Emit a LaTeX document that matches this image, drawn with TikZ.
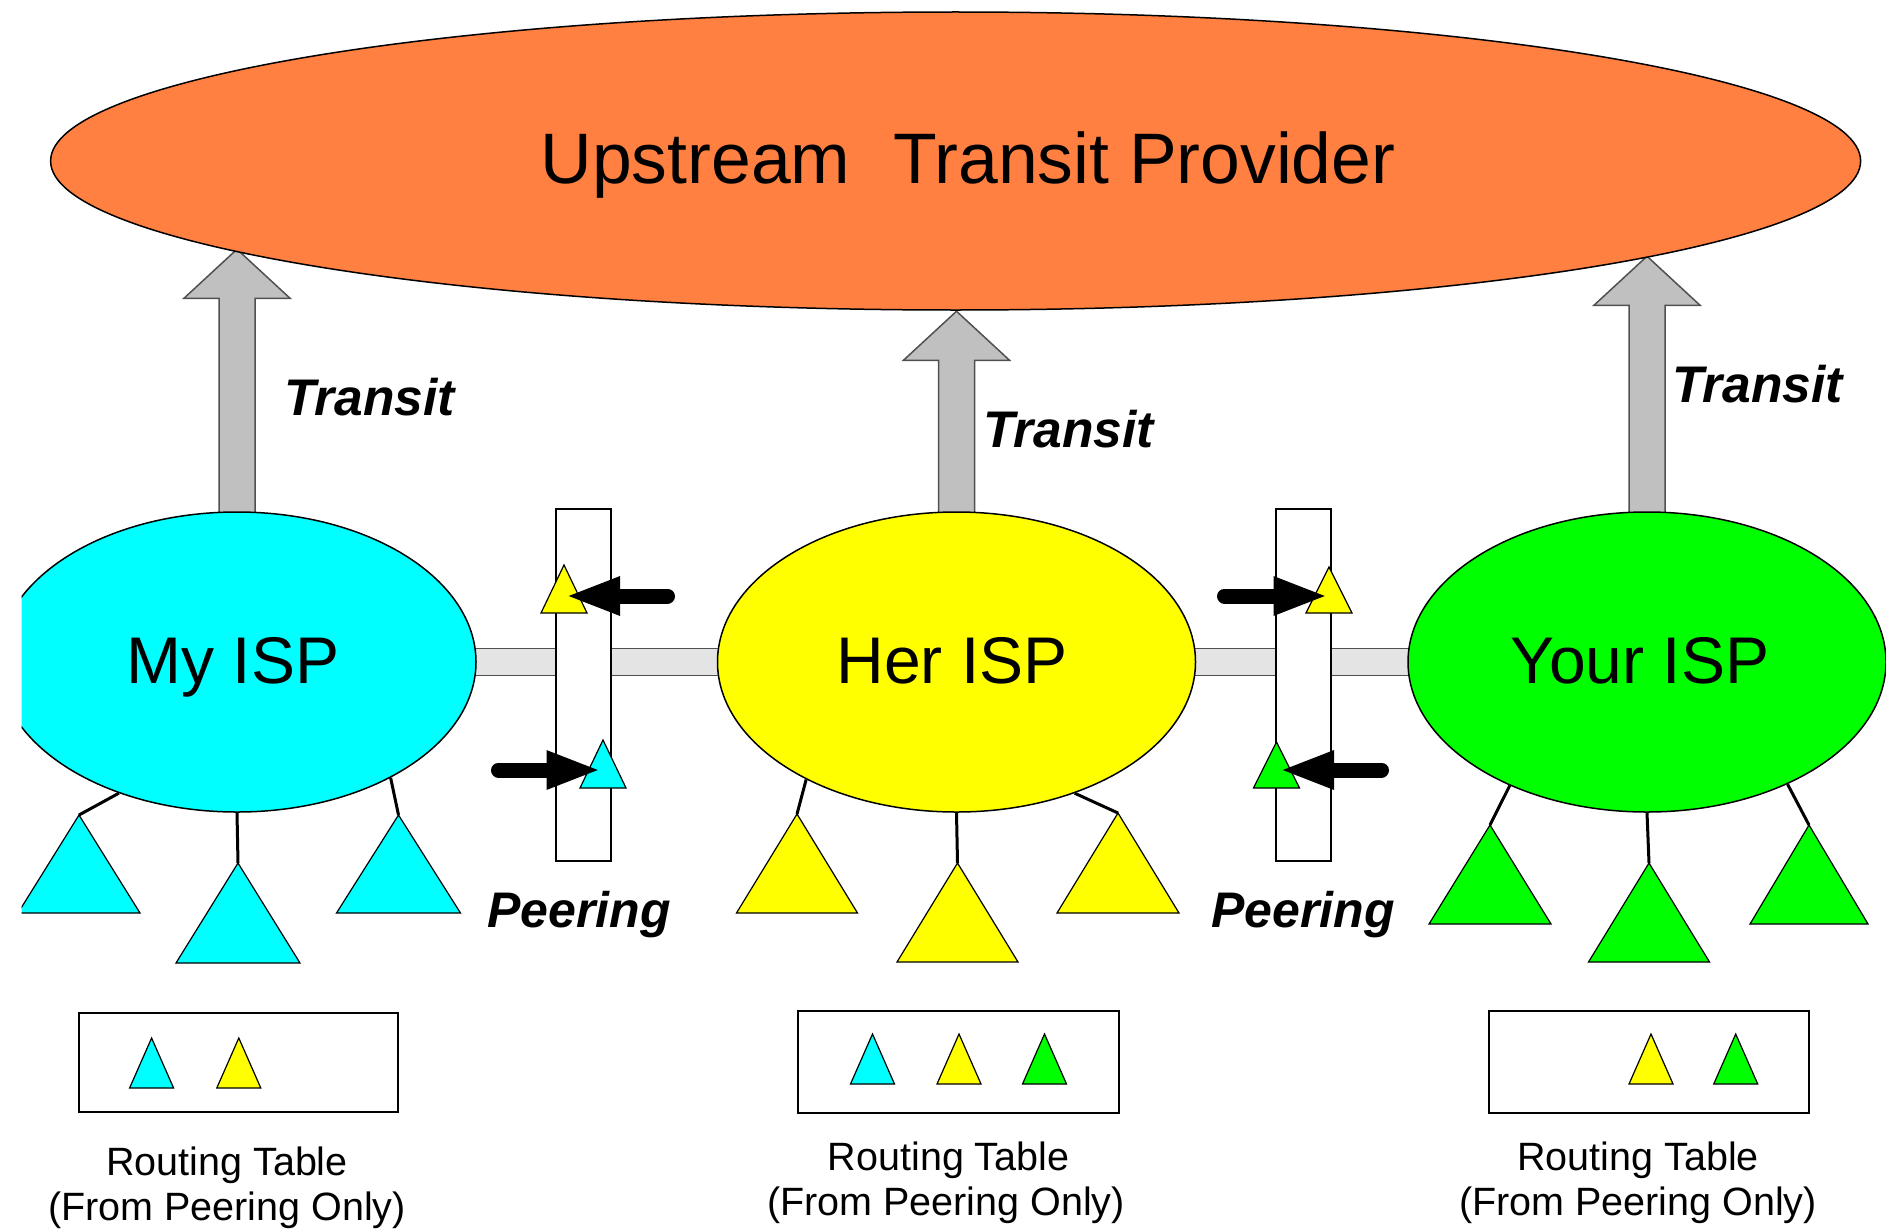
\documentclass[tikz,border=0pt]{standalone}
\usepackage{fontspec}
\setmainfont{Liberation Sans}
\usetikzlibrary{shapes.geometric,arrows.meta,backgrounds,calc}
\definecolor{orng}{RGB}{255,128,64}
\definecolor{cyn}{RGB}{0,255,255}
\definecolor{yel}{RGB}{255,255,0}
\definecolor{grn}{RGB}{0,255,0}
\definecolor{edgegray}{RGB}{80,80,80}
\definecolor{arrgray}{RGB}{192,192,192}
\definecolor{bargray}{RGB}{228,228,228}
\newcommand\tri[6]{\filldraw[trishape,#1] ({#3-#5},#4) -- (#3,{#4-#6}) coordinate (#2) -- ({#3+#5},#4) -- cycle;}
\tikzset{
  isp/.style={ellipse, draw=black, line width=1.5pt, inner sep=0pt, minimum width=478pt, minimum height=300pt},
  trishape/.style={draw=black, line width=1.2pt, line join=miter},
  tline/.style={draw=black, line width=3pt},
  tarrow/.style={fill=arrgray, draw=edgegray, line width=1.5pt, line join=miter},
  pbar/.style={fill=bargray, draw=edgegray, line width=1.5pt},
  pbox/.style={rectangle, draw=black, fill=white, line width=1.5pt, inner sep=0pt, minimum width=55pt, minimum height=352pt},
  rtbox/.style={rectangle, draw=black, fill=white, line width=2pt, inner sep=0pt, minimum height=101pt, minimum width=320pt},
  parrow/.style={draw=black, line width=15pt, line cap=round, -{Triangle[length=55pt,width=35pt]}},
  bigtxt/.style={inner sep=0pt, anchor=base, font=\fontsize{71.5}{86}\selectfont},
  isptxt/.style={inner sep=0pt, anchor=base, font=\fontsize{66}{80}\selectfont},
  emtxt/.style={inner sep=0pt, anchor=base west, font=\fontsize{51.5}{60}\selectfont\bfseries\itshape},
  rttxt/.style={inner sep=0pt, anchor=base, font=\fontsize{39.5}{46}\selectfont},
}
\begin{document}
\begin{tikzpicture}[x=1pt,y=-1pt]
\useasboundingbox (0,0) rectangle (1886,1228);

% upstream provider
\node[isp, fill=orng, minimum width=1810pt, minimum height=298pt] (up) at (955.6,161) {};
\node[bigtxt] (uplab) at (968,183) {Upstream\hspace{0.6em}Transit Provider};

% ISPs
\begin{scope}
  \clip (21.5,0) rectangle (1886,1228);
  \node[isp, fill=cyn] (my) at (237,662) {};
  \tri{fill=cyn}{m1}{79}{913}{61}{98}
\end{scope}
\node[isp, fill=yel] (her) at (956.5,662) {};
\node[isp, fill=grn] (your) at (1647,662) {};

\node[isptxt] (mylab) at (233,683) {My ISP};
\node[isptxt] (herlab) at (952,683) {Her ISP};
\node[isptxt] (yourlab) at (1640,683) {Your ISP};

% transit arrows and peering bars (behind)
\coordinate (t1) at ($(my.north)+(0,-262)$);
\coordinate (t2) at ($(her.north)+(0,-200)$);
\coordinate (t3) at ($(your.north)+(0,-255)$);
\begin{scope}[on background layer]
  \foreach \t/\b in {t1/my, t2/her, t3/your}{
    \draw[tarrow] ($(\b.north)+(-18,4)$) -- ($(\t)+(-18,49)$) -- ($(\t)+(-53,49)$) -- (\t)
      -- ($(\t)+(53,49)$) -- ($(\t)+(18,49)$) -- ($(\b.north)+(18,4)$) -- cycle;
  }
  \draw[pbar] ($(my.east)+(-6,-13.5)$) rectangle ($(her.west)+(6,13.5)$);
  \draw[pbar] ($(her.east)+(-6,-13.5)$) rectangle ($(your.west)+(6,13.5)$);
\end{scope}

\node[emtxt] (tr1) at (284,415) {Transit};
\node[emtxt] (tr2) at (983,447) {Transit};
\node[emtxt] (tr3) at (1672,402) {Transit};

% peering boxes
\node[pbox] (pb1) at (583.5,685) {};
\node[pbox] (pb2) at (1303.5,685) {};
\tri{fill=yel}{s1}{564}{613}{23}{48}
\tri{fill=cyn}{s2}{603}{788}{23}{48}
\tri{fill=yel}{s3}{1329}{613}{23}{46}
\tri{fill=grn}{s4}{1276.5}{788}{23}{46}

\coordinate (a1s) at (667.5,596);  \coordinate (a1e) at (565,596);
\coordinate (a2s) at (498.5,770);  \coordinate (a2e) at (601.5,770);
\coordinate (a3s) at (1224.5,596); \coordinate (a3e) at (1328.5,596);
\coordinate (a4s) at (1381.5,770); \coordinate (a4e) at (1279,770);
\draw[parrow] (a1s) -- (a1e);
\draw[parrow] (a2s) -- (a2e);
\draw[parrow] (a3s) -- (a3e);
\draw[parrow] (a4s) -- (a4e);

\node[emtxt, font=\fontsize{50}{60}\selectfont\bfseries\itshape] (pe1) at (487,927) {Peering};
\node[emtxt, font=\fontsize{50}{60}\selectfont\bfseries\itshape] (pe2) at (1211,927) {Peering};

% customer trees
\tri{fill=cyn}{m2}{238}{963}{62}{100}
\tri{fill=cyn}{m3}{398.5}{913}{62}{98}
\draw[tline] (my.228) -- (m1);
\draw[tline] (my.south) -- (m2);
\draw[tline] (my.323) -- (m3);

\tri{fill=yel}{h1}{797}{913}{60.5}{99}
\tri{fill=yel}{h2}{957.5}{962}{60.5}{99}
\tri{fill=yel}{h3}{1118}{913}{61}{100}
\draw[tline] (her.218) -- (h1);
\draw[tline] (her.south) -- (h2);
\draw[tline] (her.312) -- (h3);

\tri{fill=grn}{y1}{1490}{924}{61}{99}
\tri{fill=grn}{y2}{1649}{962}{60.5}{99}
\tri{fill=grn}{y3}{1809}{924}{59}{99}
\draw[tline] (your.222) -- (y1);
\draw[tline] (your.south) -- (y2);
\draw[tline] (your.319) -- (y3);

% routing tables
\node[rtbox, minimum width=318.6pt, minimum height=99.5pt] (rt1) at (238.7,1062.3) {};
\node[rtbox, minimum width=321pt, minimum height=102pt] (rt2) at (958.4,1061.7) {};
\node[rtbox, minimum width=320pt, minimum height=102pt] (rt3) at (1648.7,1061.7) {};

\tri{fill=cyn}{r11}{151.6}{1088}{22}{50}
\tri{fill=yel}{r12}{238.8}{1088}{22}{50}
\tri{fill=cyn}{r21}{872.5}{1084}{22}{50}
\tri{fill=yel}{r22}{959}{1084}{22}{50}
\tri{fill=grn}{r23}{1044.5}{1084}{22}{50}
\tri{fill=yel}{r31}{1651}{1084}{22}{50}
\tri{fill=grn}{r32}{1735.7}{1084}{22}{50}

\node[rttxt] (l1a) at (227,1175) {Routing Table};
\node[rttxt] (l1b) at (227,1220) {(From Peering Only)};
\node[rttxt] (l2a) at (948.7,1170) {Routing Table};
\node[rttxt] (l2b) at (946,1215) {(From Peering Only)};
\node[rttxt] (l3a) at (1638,1170) {Routing Table};
\node[rttxt] (l3b) at (1638,1215) {(From Peering Only)};
\end{tikzpicture}
\end{document}
